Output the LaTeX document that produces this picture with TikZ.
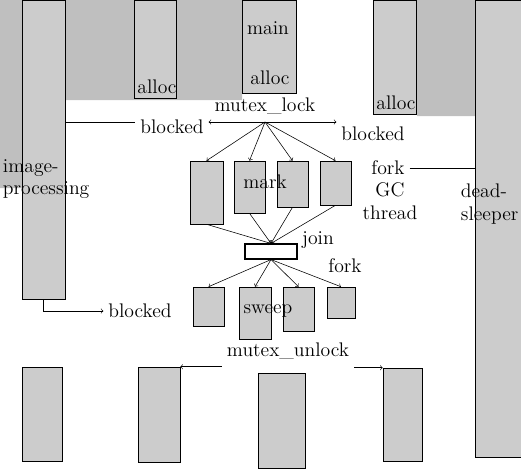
\documentclass[tikz,border=0pt]{standalone}
\usepackage{tikz}
\usepackage{xcolor}
\usetikzlibrary{fit}

\begin{document}
\begin{tikzpicture}
    [x=0.025cm,y=-0.025cm,
     every node/.style={font=\fontsize{14}{16}\selectfont},
     thread/.style={draw,fill=black!20,inner sep=0pt},
     joinbox/.style={draw,fill=white,thick,inner sep=0pt}]
\useasboundingbox (0,0) rectangle (521,469);
\fill [black!25]
    (0,0) -- (242,0) -- (242,100) -- (22,100) -- (22,188) -- (0,188) -- cycle
    (417,0) rectangle (475,116);
\path
    node [thread,fit={(22,0) (65,299)}] (imgbar) {}
    node [thread,fit={(134,0) (176,98)}] (allocbar) {}
    node [thread,fit={(242,0) (296,93)}] (mainbar) {}
    node [thread,fit={(373,0) (416,114)}] (allocbar2) {}
    node [thread,fit={(475,0) (521,457)}] (deadbar) {};
\path
    node [thread,fit={(190,161) (223,224)}] (mark1) {}
    node [thread,fit={(234,161) (265,213)}] (mark2) {}
    node [thread,fit={(277,161) (308,207)}] (mark3) {}
    node [thread,fit={(320,161) (351,205)}] (mark4) {}
    node [joinbox,fit={(245,244) (297,259)}] (join) {}
    node [thread,fit={(193,287) (224,326)}] (sweep1) {}
    node [thread,fit={(239,287) (271,339)}] (sweep2) {}
    node [thread,fit={(283,287) (314,331)}] (sweep3) {}
    node [thread,fit={(327,287) (355,318)}] (sweep4) {};
\path
    node [thread,fit={(22,367) (62,461)}] (res1) {}
    node [thread,fit={(138,367) (180,462)}] (res2) {}
    node [thread,fit={(258,373) (305,468)}] (res3) {}
    node [thread,fit={(383,368) (422,461)}] (res4) {};
\path
    (268,28) node (maintext) {main}
    (157,87) node (alloc1) {alloc}
    (270,78) node (alloc2) {alloc}
    (396,103) node (alloc3) {alloc}
    (265,106) node (lock) {mutex\_lock}
    (172,127) node (blk1) {blocked}
    (373,134) node (blk2) {blocked}
    (-2,179) node [anchor=west,align=left] (imgtext) {image-\\processing}
    (456,204) node [anchor=west,align=left] (deadtext) {dead-\\sleeper}
    (265,182) node (marktext) {mark}
    (388,168) node (fork1) {fork}
    (390,201) node [align=center] (gctext) {GC\\thread}
    (318,240) node (jointext) {join}
    (345,266) node (fork2) {fork}
    (268,311) node (sweeptext) {sweep}
    (140,311) node (blk3) {blocked}
    (288,351) node (unlock) {mutex\_unlock};
\coordinate (lockpt) at (265,122);
\foreach \m in {mark1,mark2,mark3,mark4}
    \draw [->] (lockpt) -- (\m.north);
\foreach \m in {mark1,mark2,mark3,mark4}
    \draw [->] (\m.south) -- (join.north);
\foreach \s in {sweep1,sweep2,sweep3,sweep4}
    \draw [->] (join.south) -- (\s.north);
\draw
    (imgbar.east |- lockpt) -- (lockpt -| blk1.west);
\draw
    [->] (lockpt) -- (lockpt -| blk1.east);
\draw
    [->] (lockpt) -- (lockpt -| blk2.west);
\draw
    (fork1.east) -- (fork1.east -| deadbar.west);
\draw
    [->] (imgbar.south) |- (blk3.west);
\draw
    [->] (unlock.west |- res2.north) -- (res2.north east);
\draw
    [->] (unlock.east |- res4.north) -- (res4.north west);
\end{tikzpicture}
\end{document}
